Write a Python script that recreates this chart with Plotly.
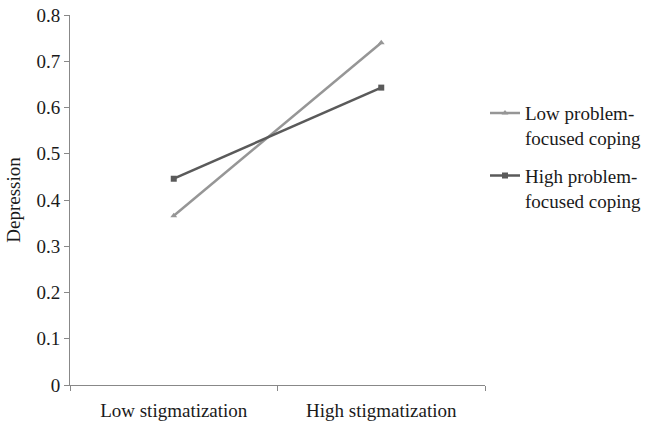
import plotly.graph_objects as go

categories = ["Low stigmatization", "High stigmatization"]
low_coping = [0.366, 0.740]
high_coping = [0.446, 0.643]
series_names = ["Low problem-<br>focused coping", "High problem-<br>focused coping"]
y_ticks = [0, 0.1, 0.2, 0.3, 0.4, 0.5, 0.6, 0.7, 0.8]
y_tick_text = ["0", "0.1", "0.2", "0.3", "0.4", "0.5", "0.6", "0.7", "0.8"]

font_family = "Liberation Serif"

fig = go.Figure()
fig.add_trace(go.Scatter(
    x=categories, y=low_coping, name=series_names[0], mode="lines+markers",
    line=dict(color="#969696", width=2.5),
    marker=dict(symbol="triangle-up", size=6, color="#969696"),
    legend="legend",
))
fig.add_trace(go.Scatter(
    x=categories, y=high_coping, name=series_names[1], mode="lines+markers",
    line=dict(color="#5a5a5a", width=2.5),
    marker=dict(symbol="square", size=6, color="#5a5a5a"),
    legend="legend2",
))

legend_common = dict(xanchor="left", yanchor="top", x=1.0,
                     font=dict(size=19, family=font_family),
                     itemwidth=30, valign="top", bgcolor="rgba(0,0,0,0)")

fig.update_layout(
    width=646, height=426,
    margin=dict(l=70, r=161, t=15, b=41, autoexpand=False),
    paper_bgcolor="white", plot_bgcolor="white",
    font=dict(family=font_family, size=19, color="#1a1a1a"),
    showlegend=True,
    legend=dict(y=0.786, **legend_common),
    legend2=dict(y=0.617, **legend_common),
    xaxis=dict(
        type="category", range=[-0.5, 1.5], tickson="boundaries",
        showline=True, linecolor="#888888", linewidth=1,
        ticks="outside", ticklen=5, tickcolor="#888888",
        showgrid=False, zeroline=False, automargin=False,
        ticklabelstandoff=8,
    ),
    yaxis=dict(
        range=[0, 0.8], tickvals=y_ticks, ticktext=y_tick_text,
        showline=True, linecolor="#888888", linewidth=1,
        ticks="outside", ticklen=5, tickcolor="#888888",
        showgrid=False, zeroline=False, automargin=False,
        title=dict(text="Depression", font=dict(size=19), standoff=10),
    ),
)

fig.write_html("out.html", post_script="document.body.style.margin='0';",
               config={"displayModeBar": False})
